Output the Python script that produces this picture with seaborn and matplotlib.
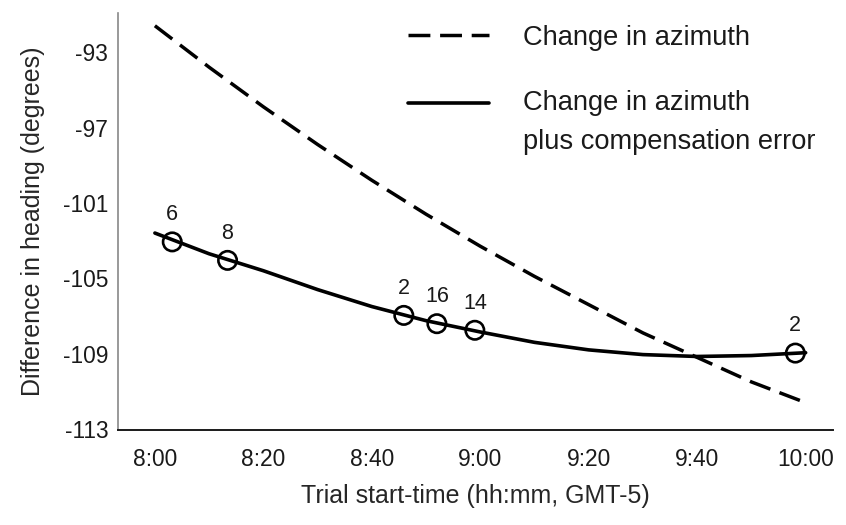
import matplotlib

matplotlib.use("Agg")

import matplotlib.pyplot as plt
import numpy as np
import seaborn as sns

# minutes after 8:00
AZ_TIMES = [0, 10, 20, 30, 40, 50, 60, 70, 80, 90, 100, 110, 120]
AZ_CHANGE = [-91.6, -93.8, -95.9, -97.9, -99.8, -101.6, -103.3, -104.9, -106.4, -107.9, -109.2, -110.5, -111.6]

COMP_TIMES = [0, 10, 20, 30, 40, 50, 60, 70, 80, 90, 100, 110, 120]
COMP_CHANGE = [-102.6, -103.7, -104.6, -105.6, -106.5, -107.25, -107.85, -108.4, -108.8, -109.05, -109.15, -109.1, -108.95]

TRIAL_TIMES = [3.2, 13.4, 45.9, 52.0, 59.0, 118.1]
TRIAL_VALUES = [-103.07, -104.05, -106.97, -107.41, -107.76, -108.97]
TRIAL_COUNTS = [6, 8, 2, 16, 14, 2]

X_TICKS = [0, 20, 40, 60, 80, 100, 120]
X_TICK_LABELS = ["8:00", "8:20", "8:40", "9:00", "9:20", "9:40", "10:00"]
Y_TICKS = [-113, -109, -105, -101, -97, -93]

sns.set_style("white")
plt.rcParams["font.family"] = ["Liberation Sans", "DejaVu Sans"]
plt.rcParams["text.color"] = "#1a1a1a"
plt.rcParams["axes.unicode_minus"] = False

fig, ax = plt.subplots(figsize=(8.46, 5.25), dpi=100)
fig.subplots_adjust(left=0.1395, right=0.985, bottom=0.181, top=0.975)

sns.lineplot(
    x=AZ_TIMES, y=AZ_CHANGE, ax=ax, color="black", linewidth=2.5,
    linestyle=(0, (6.3, 2.8)), label="Change in azimuth",
)
sns.lineplot(
    x=COMP_TIMES, y=COMP_CHANGE, ax=ax, color="black", linewidth=2.6,
    label="Change in azimuth\nplus compensation error",
)
sns.scatterplot(
    x=TRIAL_TIMES, y=TRIAL_VALUES, ax=ax, marker="o", s=175,
    facecolors="none", edgecolor="black", linewidth=1.9, zorder=3, legend=False,
)
for t, v, n in zip(TRIAL_TIMES, TRIAL_VALUES, TRIAL_COUNTS):
    ax.annotate(str(n), (t, v), xytext=(0, 12), textcoords="offset points",
                ha="center", va="bottom", fontsize=15.5)

ax.set_xlim(-6.8, 125.1)
ax.set_ylim(-113.05, -90.93)
ax.set_xticks(X_TICKS)
ax.set_xticklabels(X_TICK_LABELS)
ax.set_yticks(Y_TICKS)
ax.tick_params(axis="both", length=0, labelsize=16.4, colors="#1a1a1a")
ax.tick_params(axis="x", pad=13)
ax.tick_params(axis="y", pad=7)
ax.set_xlabel("Trial start-time (hh:mm, GMT-5)", fontsize=18, labelpad=9)
ax.set_ylabel("Difference in heading (degrees)", fontsize=18, labelpad=13)

for side in ["top", "right"]:
    ax.spines[side].set_visible(False)
ax.spines["left"].set_color("#888888")
ax.spines["left"].set_linewidth(1.2)
ax.spines["bottom"].set_color("#1a1a1a")
ax.spines["bottom"].set_linewidth(1.4)

leg = ax.legend(
    loc="upper left", bbox_to_anchor=(0.482, 0.953), bbox_transform=fig.transFigure,
    frameon=False, fontsize=19.6, handlelength=3.0, handletextpad=1.25,
    borderpad=0, borderaxespad=0, labelspacing=1.45,
)
leg.get_texts()[1].set_linespacing(1.63)
# put the solid handle next to the first line of its two-line label
solid = leg.legend_handles[1]
solid.set_ydata(np.asarray(solid.get_ydata()) + 14.4)

fig.savefig("out.png", dpi=100)
